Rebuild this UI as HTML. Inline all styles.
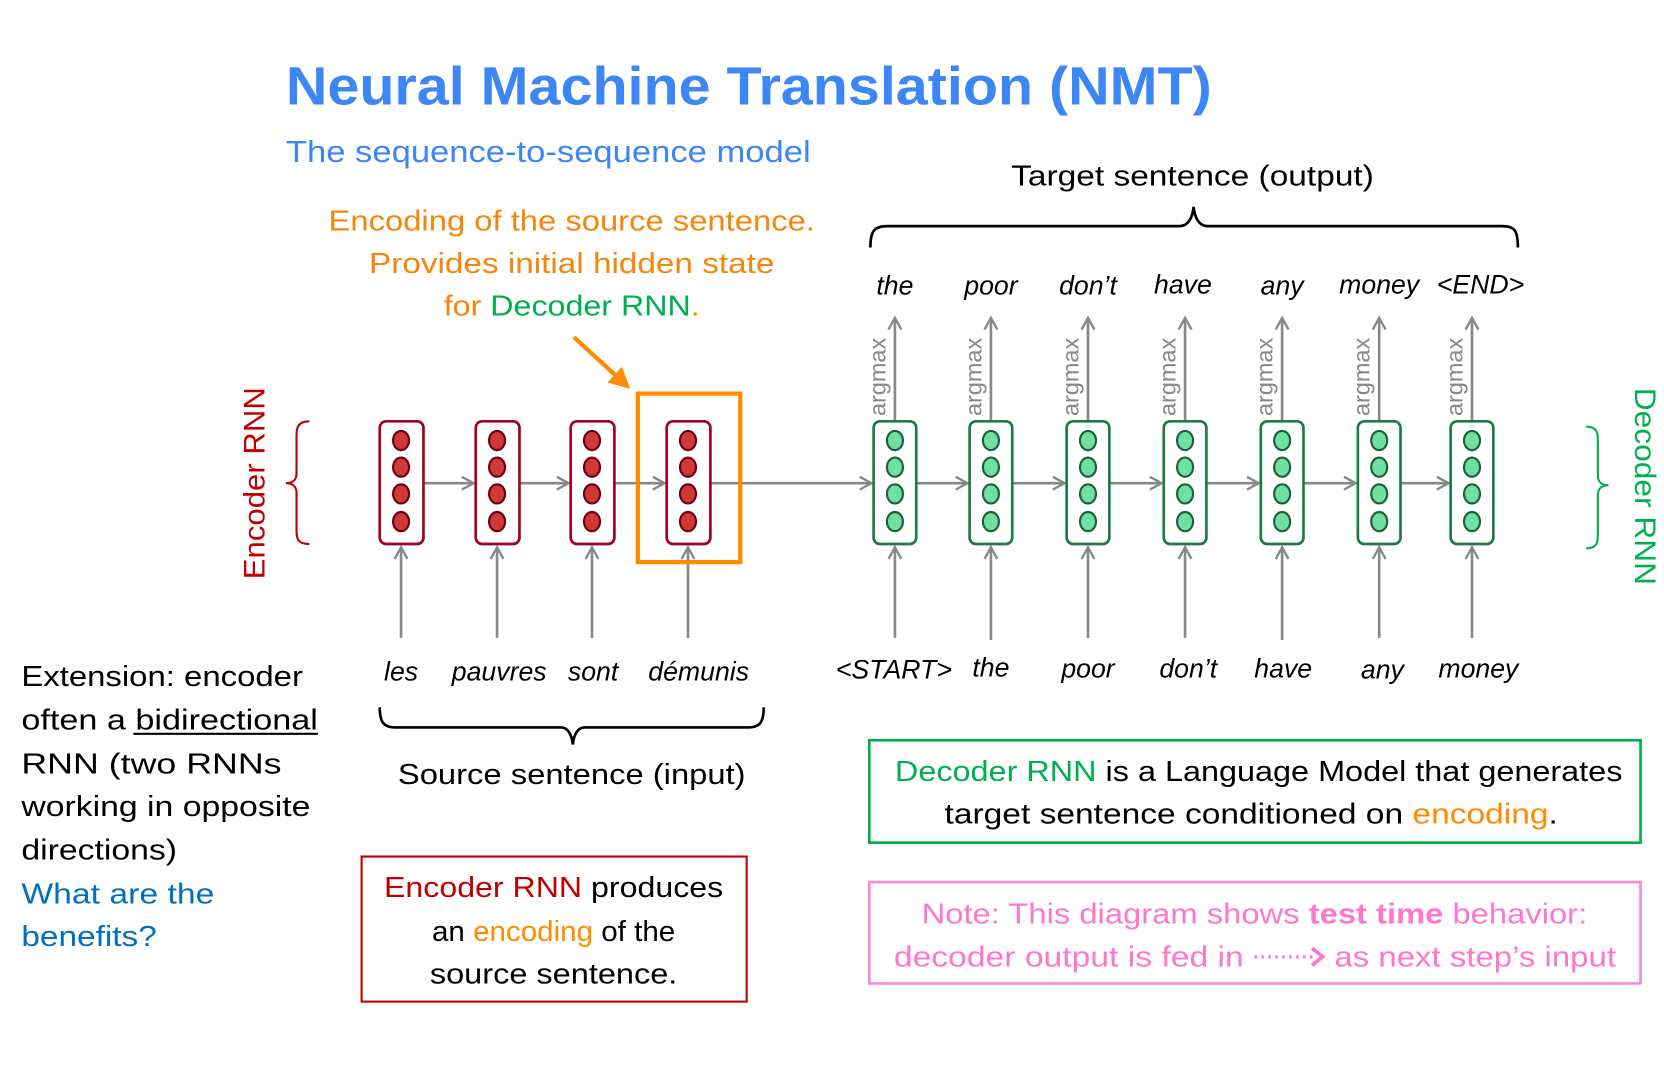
<!DOCTYPE html>
<html><head><meta charset="utf-8"><style>
html,body{margin:0;padding:0;background:#fff;}
svg{display:block;}
text{font-family:"Liberation Sans",sans-serif;}
.it{font-style:italic;font-size:25px;fill:#000;}
.ar{font-size:22px;fill:#888;}
</style></head><body>
<svg width="1664" height="1080" viewBox="2 2 1560 1012.5" xmlns="http://www.w3.org/2000/svg">
<defs>
<marker id="ah" viewBox="0 0 14 14" refX="12" refY="7" markerWidth="14" markerHeight="14" markerUnits="userSpaceOnUse" orient="auto">
<path d="M1,1 L12,7 L1,13" fill="none" stroke="#888" stroke-width="2.2"/>
</marker>
<marker id="oh" viewBox="0 0 10 10" refX="8" refY="5" markerWidth="5" markerHeight="5" orient="auto">
<path d="M0,0 L10,5 L0,10 z" fill="#ff8c00"/>
</marker>
<g id="enc">
<rect x="-20" y="0" width="41" height="115" rx="6" fill="#fff" stroke="#a50021" stroke-width="2.5"/>
<ellipse cx="0" cy="18" rx="7.5" ry="9" fill="#d13838" stroke="#6b0010" stroke-width="2"/>
<ellipse cx="0" cy="43" rx="7.5" ry="9" fill="#d13838" stroke="#6b0010" stroke-width="2"/>
<ellipse cx="0" cy="68" rx="7.5" ry="9" fill="#d13838" stroke="#6b0010" stroke-width="2"/>
<ellipse cx="0" cy="94" rx="7.5" ry="9" fill="#d13838" stroke="#6b0010" stroke-width="2"/>
</g>
<g id="dec">
<rect x="-20" y="0" width="40" height="115" rx="6" fill="#fff" stroke="#1e7a48" stroke-width="2.5"/>
<ellipse cx="0" cy="18" rx="7.5" ry="9" fill="#6ee0a0" stroke="#1e5e38" stroke-width="2"/>
<ellipse cx="0" cy="43" rx="7.5" ry="9" fill="#6ee0a0" stroke="#1e5e38" stroke-width="2"/>
<ellipse cx="0" cy="68" rx="7.5" ry="9" fill="#6ee0a0" stroke="#1e5e38" stroke-width="2"/>
<ellipse cx="0" cy="94" rx="7.5" ry="9" fill="#6ee0a0" stroke="#1e5e38" stroke-width="2"/>
</g>
</defs>

<text x="270" y="100" font-size="50" font-weight="bold" fill="#3d86f5" textLength="868" lengthAdjust="spacingAndGlyphs">Neural Machine Translation (NMT)</text>
<text x="270" y="154" font-size="29" fill="#3d86f5" textLength="492" lengthAdjust="spacingAndGlyphs">The sequence-to-sequence model</text>

<text x="950" y="176" font-size="27" fill="#000" textLength="340" lengthAdjust="spacingAndGlyphs">Target sentence (output)</text>
<path d="M818,234 C818,218 822,214 834,214 L1108,214 C1116,214 1120,206 1121,196 C1122,206 1126,214 1134,214 L1410,214 C1422,214 1425,218 1425,234" fill="none" stroke="#000" stroke-width="2.5"/>

<text x="538" y="218" font-size="27" fill="#f5860a" text-anchor="middle" textLength="456" lengthAdjust="spacingAndGlyphs">Encoding of the source sentence.</text>
<text x="538" y="258" font-size="27" fill="#f5860a" text-anchor="middle" textLength="380" lengthAdjust="spacingAndGlyphs">Provides initial hidden state</text>
<text x="538" y="298" font-size="27" fill="#f5860a" text-anchor="middle" textLength="240" lengthAdjust="spacingAndGlyphs">for <tspan fill="#00b050">Decoder RNN</tspan>.</text>
<line x1="540" y1="318" x2="590" y2="364" stroke="#ff8c00" stroke-width="4" marker-end="url(#oh)"/>

<text transform="translate(250,455) rotate(-90)" font-size="28" fill="#c00000" text-anchor="middle" textLength="180" lengthAdjust="spacingAndGlyphs">Encoder RNN</text>
<path d="M292,397 C282,397 280,402 280,410 L280,446 C280,452 276,455 270,455 C276,455 280,458 280,464 L280,500 C280,508 282,512 292,512" fill="none" stroke="#c00000" stroke-width="2"/>

<g stroke="#888" stroke-width="2.5" fill="none">
<line x1="400" y1="455" x2="446" y2="455" marker-end="url(#ah)"/>
<line x1="489" y1="455" x2="535" y2="455" marker-end="url(#ah)"/>
<line x1="578" y1="455" x2="625" y2="455" marker-end="url(#ah)"/>
<line x1="668" y1="455" x2="819" y2="455" marker-end="url(#ah)"/>
<line x1="862" y1="455" x2="909" y2="455" marker-end="url(#ah)"/>
<line x1="952" y1="455" x2="1000" y2="455" marker-end="url(#ah)"/>
<line x1="1043" y1="455" x2="1091" y2="455" marker-end="url(#ah)"/>
<line x1="1134" y1="455" x2="1182" y2="455" marker-end="url(#ah)"/>
<line x1="1225" y1="455" x2="1273" y2="455" marker-end="url(#ah)"/>
<line x1="1316" y1="455" x2="1360" y2="455" marker-end="url(#ah)"/>
<line x1="378" y1="600" x2="378" y2="515" marker-end="url(#ah)"/>
<line x1="468" y1="600" x2="468" y2="515" marker-end="url(#ah)"/>
<line x1="557" y1="600" x2="557" y2="515" marker-end="url(#ah)"/>
<line x1="647" y1="600" x2="647" y2="515" marker-end="url(#ah)"/>
<line x1="841" y1="600" x2="841" y2="515" marker-end="url(#ah)"/>
<line x1="931" y1="602" x2="931" y2="515" marker-end="url(#ah)"/>
<line x1="1022" y1="600" x2="1022" y2="515" marker-end="url(#ah)"/>
<line x1="1113" y1="600" x2="1113" y2="515" marker-end="url(#ah)"/>
<line x1="1204" y1="602" x2="1204" y2="515" marker-end="url(#ah)"/>
<line x1="1295" y1="600" x2="1295" y2="515" marker-end="url(#ah)"/>
<line x1="1382" y1="600" x2="1382" y2="515" marker-end="url(#ah)"/>
<line x1="841" y1="397" x2="841" y2="300" marker-end="url(#ah)"/>
<line x1="931" y1="397" x2="931" y2="300" marker-end="url(#ah)"/>
<line x1="1022" y1="397" x2="1022" y2="300" marker-end="url(#ah)"/>
<line x1="1113" y1="397" x2="1113" y2="300" marker-end="url(#ah)"/>
<line x1="1204" y1="397" x2="1204" y2="300" marker-end="url(#ah)"/>
<line x1="1295" y1="397" x2="1295" y2="300" marker-end="url(#ah)"/>
<line x1="1382" y1="397" x2="1382" y2="300" marker-end="url(#ah)"/>
</g>

<use href="#enc" x="378" y="397"/>
<use href="#enc" x="468" y="397"/>
<use href="#enc" x="557" y="397"/>
<use href="#enc" x="647" y="397"/>
<rect x="600" y="371" width="96" height="158" fill="none" stroke="#ff8c00" stroke-width="4"/>

<use href="#dec" x="841" y="397"/>
<use href="#dec" x="931" y="397"/>
<use href="#dec" x="1022" y="397"/>
<use href="#dec" x="1113" y="397"/>
<use href="#dec" x="1204" y="397"/>
<use href="#dec" x="1295" y="397"/>
<use href="#dec" x="1382" y="397"/>

<text transform="translate(832,392) rotate(-90)" class="ar">argmax</text>
<text transform="translate(922,392) rotate(-90)" class="ar">argmax</text>
<text transform="translate(1013,392) rotate(-90)" class="ar">argmax</text>
<text transform="translate(1104,392) rotate(-90)" class="ar">argmax</text>
<text transform="translate(1195,392) rotate(-90)" class="ar">argmax</text>
<text transform="translate(1286,392) rotate(-90)" class="ar">argmax</text>
<text transform="translate(1373,392) rotate(-90)" class="ar">argmax</text>

<g text-anchor="middle">
<text x="841" y="278" class="it">the</text>
<text x="931" y="278" class="it">poor</text>
<text x="1022" y="278" class="it">don’t</text>
<text x="1111" y="277" class="it">have</text>
<text x="1204" y="278" class="it">any</text>
<text x="1295" y="277" class="it">money</text>
<text x="1390" y="277" class="it">&lt;END&gt;</text>
<text x="378" y="640" class="it">les</text>
<text x="470" y="640" class="it">pauvres</text>
<text x="558" y="640" class="it">sont</text>
<text x="657" y="640" class="it">démunis</text>
<text x="840" y="638" class="it">&lt;START&gt;</text>
<text x="931" y="636" class="it">the</text>
<text x="1022" y="637" class="it">poor</text>
<text x="1116" y="637" class="it">don’t</text>
<text x="1205" y="637" class="it">have</text>
<text x="1298" y="638" class="it">any</text>
<text x="1388" y="637" class="it">money</text>
</g>

<text transform="translate(1535,458) rotate(90)" font-size="28" fill="#00b050" text-anchor="middle" textLength="185" lengthAdjust="spacingAndGlyphs">Decoder RNN</text>
<path d="M1489,402 C1498,402 1500,406 1500,414 L1500,448 C1500,454 1504,457 1510,457 C1504,457 1500,460 1500,466 L1500,504 C1500,512 1498,516 1489,516" fill="none" stroke="#00b050" stroke-width="2"/>

<path d="M358,665 C358,680 362,684 374,684 L528,684 C534,684 538,690 539,700 C540,690 544,684 550,684 L702,684 C714,684 718,680 718,665" fill="none" stroke="#000" stroke-width="2.5"/>
<text x="538" y="737" font-size="27" fill="#000" text-anchor="middle" textLength="326" lengthAdjust="spacingAndGlyphs">Source sentence (input)</text>

<g font-size="27" fill="#000">
<text x="22" y="645" textLength="264" lengthAdjust="spacingAndGlyphs">Extension: encoder</text>
<text x="22" y="686" textLength="278" lengthAdjust="spacingAndGlyphs">often a bidirectional</text>
<text x="22" y="727" textLength="244" lengthAdjust="spacingAndGlyphs">RNN (two RNNs</text>
<text x="22" y="767" textLength="271" lengthAdjust="spacingAndGlyphs">working in opposite</text>
<text x="22" y="808" textLength="146" lengthAdjust="spacingAndGlyphs">directions)</text>
</g>
<line x1="127" y1="690" x2="300" y2="690" stroke="#000" stroke-width="2"/>
<text x="22" y="849" font-size="27" fill="#0070c0" textLength="181" lengthAdjust="spacingAndGlyphs">What are the</text>
<text x="22" y="889" font-size="27" fill="#0070c0" textLength="127" lengthAdjust="spacingAndGlyphs">benefits?</text>

<rect x="341" y="805" width="361" height="136" fill="none" stroke="#c00000" stroke-width="2"/>
<g font-size="27" fill="#000" text-anchor="middle">
<text x="521" y="843" textLength="318" lengthAdjust="spacingAndGlyphs"><tspan fill="#c00000">Encoder RNN</tspan> produces</text>
<text x="521" y="884" textLength="228" lengthAdjust="spacingAndGlyphs">an <tspan fill="#ff8c00">encoding</tspan> of the</text>
<text x="521" y="924" textLength="232" lengthAdjust="spacingAndGlyphs">source sentence.</text>
</g>

<rect x="817" y="696" width="723" height="96" fill="none" stroke="#00b050" stroke-width="2.5"/>
<g font-size="27" fill="#000" text-anchor="middle">
<text x="1182" y="734" textLength="682" lengthAdjust="spacingAndGlyphs"><tspan fill="#00b050">Decoder RNN</tspan> is a Language Model that generates</text>
<text x="1175" y="774" textLength="575" lengthAdjust="spacingAndGlyphs">target sentence conditioned on <tspan fill="#ff8c00">encoding</tspan>.</text>
</g>

<rect x="817" y="829" width="723" height="95" fill="none" stroke="#ff88d4" stroke-width="2.5"/>
<g font-size="27" fill="#ff77cc" text-anchor="middle">
<text x="1178" y="868" textLength="624" lengthAdjust="spacingAndGlyphs">Note: This diagram shows <tspan font-weight="bold">test time</tspan> behavior:</text>
<text x="1004" y="908" textLength="328" lengthAdjust="spacingAndGlyphs">decoder output is fed in</text>
<text x="1385" y="908" textLength="264" lengthAdjust="spacingAndGlyphs">as next step’s input</text>
</g>
<line x1="1178" y1="899" x2="1234" y2="899" stroke="#ff77cc" stroke-width="3" stroke-dasharray="2.5,4"/>
<path d="M1232,891 L1242,899 L1232,907" fill="none" stroke="#ff77cc" stroke-width="3.5"/>
</svg>
</body></html>
